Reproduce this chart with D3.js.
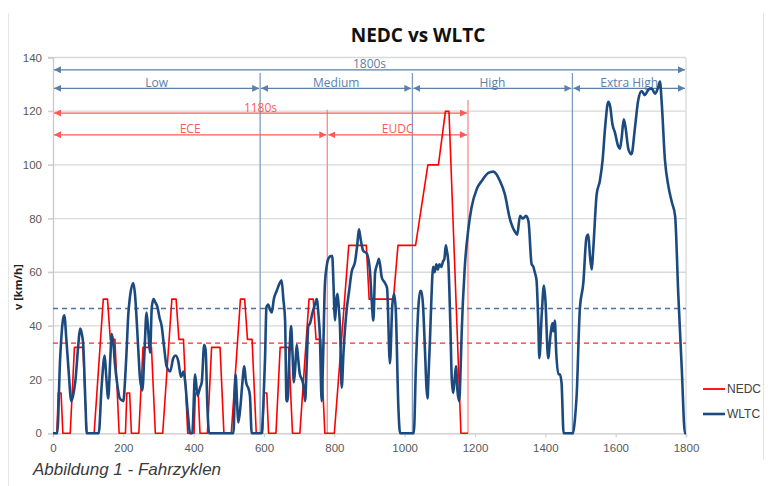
<!DOCTYPE html>
<html><head><meta charset="utf-8">
<script src="https://cdn.jsdelivr.net/npm/d3@7"></script>
<style>
body{margin:0;background:#fff;}
svg{display:block;font-family:"Open Sans",sans-serif;}
</style>
</head><body>
<svg id="c" width="780" height="486"></svg>
<script>
const chartTitle = "NEDC vs WLTC";
const caption = "Abbildung 1 - Fahrzyklen";
const yAxisTitle = "v [km/h]";
const yTicks = [0, 20, 40, 60, 80, 100, 120, 140];
const xTicks = [0, 200, 400, 600, 800, 1000, 1200, 1400, 1600, 1800];
const seriesNames = ["NEDC", "WLTC"];
const seriesColors = ["#ff0000", "#1c4a7e"];

const nedcTime = [0,11,15,23,28,49,61,85,96,117,143,155,163,176,188,
  206,210,218,223,244,256,280,291,312,338,350,358,371,383,
  401,405,413,418,439,451,475,486,507,533,545,553,566,578,
  596,600,608,613,634,646,670,681,702,728,740,748,761,773,
  800,841,891,899,968,981,1031,1066,1096,1116,1126,1160,1180];
const nedcSpeed = [0,0,15,15,0,0,32,32,0,0,50,50,35,35,0,
  0,15,15,0,0,32,32,0,0,50,50,35,35,0,
  0,15,15,0,0,32,32,0,0,50,50,35,35,0,
  0,15,15,0,0,32,32,0,0,50,50,35,35,0,
  0,70,70,50,50,70,70,100,100,120,120,0,0];

const wltcTime = [0,12,20,28,32,38,44,52,57,64,72,77,82,86,92,96,130,138,147,151,157,163,167,172,176,183,190,200,205,209,214,219,228,233,238,243,247,254,260,266,271,276,281,286,290,297,303,309,316,323,333,342,349,356,364,371,376,383,390,396,404,411,418,423,430,434,439,444,
  513,519,524,527,533,538,544,548,551,555,560,565,593,598,603,607,612,617,622,628,636,645,650,655,660,664,667,672,677,681,685,689,693,697,702,708,712,717,721,726,731,738,745,750,755,759,764,768,773,778,783,790,794,797,800,802,806,809,812,816,821,826,835,842,849,859,865,870,874,878,882,892,901,906,911,916,922,927,935,944,950,958,965,970,975,982,987,
  1026,1032,1039,1044,1048,1052,1058,1062,1065,1068,1072,1076,1081,1085,1090,1094,1099,1104,1109,1113,1117,1120,1124,1130,1134,1138,1142,1146,1150,1155,1160,1162,1171,1181,1190,1205,1219,1238,1252,1261,1271,1285,1299,1314,1320,1328,1336,1345,1352,1361,1366,1370,1375,1380,1383,1390,1396,1400,1408,1415,1420,1423,1427,1431,1437,1441,1446,1452,
  1479,1484,1489,1498,1508,1517,1522,1527,1532,1536,1546,1555,1563,1570,1579,1584,1591,1598,1607,1612,1617,1623,1628,1636,1645,1655,1664,1674,1683,1693,1702,1712,1721,1726,1731,1740,1750,1760,1769,1778,1788,1797,1800];
const wltcSpeed = [0,0,27,42,44,35,24,12,14,20,33,39,37,33,12,0,0,17,29,22,13,28,37,33,26,18,13,12,20,30,44,51,56,52,42,30,21,16,30,45,38,30,47,50,49,47,43,40,32,25,23,28,29,27,21,23,19,8,0,0,22,14,17,19,33,31,10,0,
  0,22,10,4,10,18,25,20,18,17,14,0,0,10,28,47,48,46,45,50,53,56,57,50,42,12,12,28,40,30,19,25,33,28,22,20,18,12,24,40,41,45,48,50,44,36,12,28,55,62,65,66,66,58,46,42,50,52,48,40,17,30,46,53,60,64,70,76,73,70,68,67,61,50,42,60,63,65,58,56,54,26,48,52,45,10,0,
  0,25,47,53,53,48,30,17,13,22,35,50,62,60,63,61,63,62,64,65,70,68,64,40,20,15,20,25,16,12,28,37,62,76,84,91,94,97,97.5,96.5,94,89,80,75,74,81,80,81,79,63,62,60,57,41,28,45,55,50,28,37,41,38,42,30,22,22,19,0,
  0,5,14,46,56,73,74,66,61,68,89,94,102,114,123.5,122,115,112,107,106,110,117,114,106,104,114,124,127.5,126,128,128.5,126.5,129,131,123,102,92,86,81,52,24,0,0];

const meanSpeeds = [33.6, 46.5];
const wltcPhaseNames = ["Low", "Medium", "High", "Extra High"];
const wltcPhaseBounds = [0, 589, 1022, 1477, 1800];
const nedcPhaseNames = ["ECE", "EUDC"];
const nedcPhaseBounds = [0, 780, 1180];
const totalLabels = ["1800s", "1180s"];

const svg = d3.select("#c");
svg.append("rect").attr("width", 780).attr("height", 486).attr("fill", "#fff");

// outer frame lines
svg.append("line").attr("x1", 8.5).attr("x2", 8.5).attr("y1", 13).attr("y2", 486).attr("stroke", "#e6e6e6");
svg.append("line").attr("x1", 763.5).attr("x2", 763.5).attr("y1", 13).attr("y2", 460).attr("stroke", "#e6e6e6");

const x = d3.scaleLinear().domain([0, 1800]).range([53, 686]);
const y = d3.scaleLinear().domain([0, 140]).range([433.3, 57.5]);

const blueA = "#5a7fa9", redA = "#ff5a5a";
const defs = svg.append("defs");
function marker(id, color) {
  defs.append("marker").attr("id", id).attr("viewBox", "0 0 10 10")
    .attr("refX", 10).attr("refY", 5).attr("markerWidth", 7).attr("markerHeight", 7)
    .attr("markerUnits", "userSpaceOnUse").attr("orient", "auto-start-reverse")
    .append("path").attr("d", "M0,0L10,5L0,10z").attr("fill", color);
}
marker("ab", blueA);
marker("ar", redA);

// gridlines
svg.append("g").selectAll("line").data(yTicks.filter(d => d > 0)).join("line")
  .attr("x1", 48).attr("x2", 686).attr("y1", d => y(d)).attr("y2", d => y(d))
  .attr("stroke", "#d9d9d9").attr("stroke-width", 1.3);
svg.append("line").attr("x1", 686).attr("x2", 686).attr("y1", y(140)).attr("y2", y(0))
  .attr("stroke", "#d9d9d9").attr("stroke-width", 1.3);

// axes
const yAx = svg.append("g").attr("transform", "translate(53,0)")
  .call(d3.axisLeft(y).tickValues(yTicks).tickSize(5).tickPadding(6).tickFormat(d3.format("d")));
const xAx = svg.append("g").attr("transform", `translate(0,${y(0)})`)
  .call(d3.axisBottom(x).tickValues(xTicks).tickSize(4).tickPadding(7).tickFormat(d3.format("d")));
[yAx, xAx].forEach(g => {
  g.select(".domain").attr("stroke", "#c8c8c8").attr("stroke-width", 1.3);
  g.selectAll(".tick line").attr("stroke", "#d0d0d0").attr("stroke-width", 1.2);
  g.selectAll("text").attr("fill", "#595959").style("font-size", "11.5px")
    .style("font-family", "'Liberation Sans', Arial, sans-serif");
});

// phase vertical lines
svg.append("g").selectAll("line").data(wltcPhaseBounds.slice(1, -1)).join("line")
  .attr("x1", d => x(d)).attr("x2", d => x(d)).attr("y1", y(134.2)).attr("y2", y(0))
  .attr("stroke", "#7f9cc0").attr("stroke-width", 1.3);
svg.append("g").selectAll("line").data(nedcPhaseBounds.slice(1)).join("line")
  .attr("x1", d => x(d)).attr("x2", d => x(d)).attr("y1", (d, i) => y(i === 0 ? 120.5 : 124.2)).attr("y2", y(0))
  .attr("stroke", "#ff8a8a").attr("stroke-width", 1.3);

function arrow(t0, t1, v, color, mk, label) {
  const yy = y(v);
  svg.append("line").attr("x1", x(t0) + 1).attr("x2", x(t1) - 1).attr("y1", yy).attr("y2", yy)
    .attr("stroke", color).attr("stroke-width", 1.3)
    .attr("marker-start", `url(#${mk})`).attr("marker-end", `url(#${mk})`);
  svg.append("text").attr("x", (x(t0) + x(t1)) / 2).attr("y", yy - 1.5)
    .attr("text-anchor", "middle").attr("fill", color).style("font-size", "12px").text(label);
}
arrow(0, 1800, 135.4, blueA, "ab", totalLabels[0]);
wltcPhaseNames.forEach((n, i) => arrow(wltcPhaseBounds[i], wltcPhaseBounds[i + 1], 128.5, blueA, "ab", n));
arrow(0, 1180, 119.3, redA, "ar", totalLabels[1]);
nedcPhaseNames.forEach((n, i) => arrow(nedcPhaseBounds[i], nedcPhaseBounds[i + 1], 111.2, redA, "ar", n));

// mean lines
svg.append("line").attr("x1", x(0)).attr("x2", x(1800)).attr("y1", y(meanSpeeds[1])).attr("y2", y(meanSpeeds[1]))
  .attr("stroke", "#4f72a3").attr("stroke-width", 1.5).attr("stroke-dasharray", "5,4");
svg.append("line").attr("x1", x(0)).attr("x2", x(1800)).attr("y1", y(meanSpeeds[0])).attr("y2", y(meanSpeeds[0]))
  .attr("stroke", "#ff2a2a").attr("stroke-width", 1.3).attr("stroke-dasharray", "5,4");

// series
const nedc = nedcTime.map((t, i) => [t, nedcSpeed[i]]);
const wltc = wltcTime.map((t, i) => [t, wltcSpeed[i]]);
svg.append("path").datum(nedc)
  .attr("d", d3.line().x(d => x(d[0])).y(d => y(d[1])))
  .attr("fill", "none").attr("stroke", seriesColors[0]).attr("stroke-width", 1.6).attr("stroke-linejoin", "round");
svg.append("path").datum(wltc)
  .attr("d", d3.line().curve(d3.curveMonotoneX).x(d => x(d[0])).y(d => y(d[1])))
  .attr("fill", "none").attr("stroke", seriesColors[1]).attr("stroke-width", 2.6).attr("stroke-linejoin", "round");

// title
svg.append("text").attr("x", 418).attr("y", 42).attr("text-anchor", "middle")
  .style("font-size", "19px").style("font-weight", "700").attr("fill", "#111").text(chartTitle);

// y axis title
svg.append("text").attr("transform", "translate(22,287) rotate(-90)").attr("text-anchor", "middle")
  .style("font-size", "11px").style("font-weight", "700").attr("fill", "#222").text(yAxisTitle);

// legend
const leg = svg.append("g");
seriesNames.forEach((n, i) => {
  const ly = 389 + i * 25;
  leg.append("line").attr("x1", 703).attr("x2", 725).attr("y1", ly).attr("y2", ly)
    .attr("stroke", seriesColors[i]).attr("stroke-width", i === 0 ? 1.8 : 2.6);
  leg.append("text").attr("x", 727).attr("y", ly + 4).style("font-size", "12px")
    .style("font-family", "'Liberation Sans', Arial, sans-serif").attr("fill", "#404040").text(n);
});

// caption
svg.append("text").attr("x", 33).attr("y", 475).style("font-size", "17px").style("font-style", "italic")
  .style("font-family", "'Liberation Sans', Arial, sans-serif").attr("fill", "#3a3a3a").text(caption);
</script>
</body></html>
